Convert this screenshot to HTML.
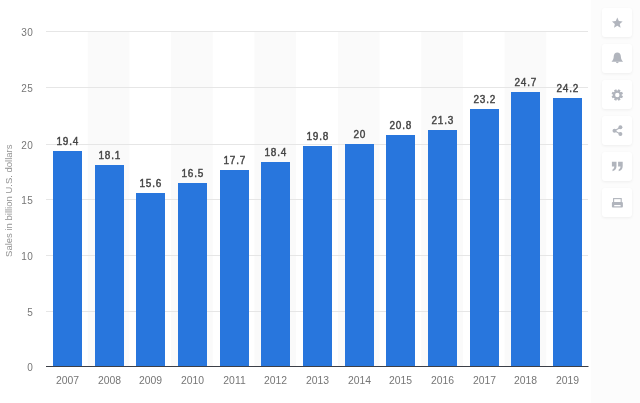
<!DOCTYPE html>
<html><head><meta charset="utf-8"><style>
html,body{margin:0;padding:0;background:#fff;width:640px;height:403px;overflow:hidden;position:relative}
svg{position:absolute;left:0;top:0;will-change:transform}
text{font-family:"Liberation Sans",sans-serif}
.yl{font-size:10px;fill:#767676;letter-spacing:0.4px}
.xl{font-size:10.4px;fill:#767676}
.dl{font-size:10px;font-weight:normal;fill:#444;stroke:#444;stroke-width:0.4px;letter-spacing:0.75px}
.yt{font-size:9.5px;fill:#939393}
.side{position:absolute;left:591px;top:0;width:49px;height:403px;background:#fcfcfc}
.btn{position:absolute;left:602px;width:30px;height:29px;border-radius:3px;background:#fff;box-shadow:0 1px 3px rgba(0,0,0,0.06)}
</style></head><body>
<svg width="640" height="403" viewBox="0 0 640 403">
<rect x="87.69" y="31" width="41.69" height="335" fill="#fafafa"/>
<rect x="171.08" y="31" width="41.69" height="335" fill="#fafafa"/>
<rect x="254.46" y="31" width="41.69" height="335" fill="#fafafa"/>
<rect x="337.85" y="31" width="41.69" height="335" fill="#fafafa"/>
<rect x="421.23" y="31" width="41.69" height="335" fill="#fafafa"/>
<rect x="504.62" y="31" width="41.69" height="335" fill="#fafafa"/>
<rect x="46" y="31" width="542" height="1" fill="#e6e6e6"/>
<text x="33.3" y="35.9" text-anchor="end" class="yl">30</text>
<rect x="46" y="87" width="542" height="1" fill="#e6e6e6"/>
<text x="33.3" y="91.9" text-anchor="end" class="yl">25</text>
<rect x="46" y="144" width="542" height="1" fill="#e6e6e6"/>
<text x="33.3" y="148.9" text-anchor="end" class="yl">20</text>
<rect x="46" y="199" width="542" height="1" fill="#e6e6e6"/>
<text x="33.3" y="203.9" text-anchor="end" class="yl">15</text>
<rect x="46" y="255" width="542" height="1" fill="#e6e6e6"/>
<text x="33.3" y="259.9" text-anchor="end" class="yl">10</text>
<rect x="46" y="311" width="542" height="1" fill="#e6e6e6"/>
<text x="33.3" y="315.9" text-anchor="end" class="yl">5</text>
<text x="33.3" y="370.6" text-anchor="end" class="yl">0</text>
<rect x="53" y="151" width="29" height="215" fill="#2876dd"/>
<text x="67.77" y="144.7" text-anchor="middle" class="dl">19.4</text>
<text x="67.50" y="383.6" text-anchor="middle" class="xl">2007</text>
<rect x="95" y="165" width="29" height="201" fill="#2876dd"/>
<text x="109.77" y="158.7" text-anchor="middle" class="dl">18.1</text>
<text x="109.50" y="383.6" text-anchor="middle" class="xl">2008</text>
<rect x="136" y="193" width="29" height="173" fill="#2876dd"/>
<text x="150.77" y="186.7" text-anchor="middle" class="dl">15.6</text>
<text x="150.50" y="383.6" text-anchor="middle" class="xl">2009</text>
<rect x="178" y="183" width="29" height="183" fill="#2876dd"/>
<text x="192.77" y="176.7" text-anchor="middle" class="dl">16.5</text>
<text x="192.50" y="383.6" text-anchor="middle" class="xl">2010</text>
<rect x="220" y="170" width="29" height="196" fill="#2876dd"/>
<text x="234.77" y="163.7" text-anchor="middle" class="dl">17.7</text>
<text x="234.50" y="383.6" text-anchor="middle" class="xl">2011</text>
<rect x="261" y="162" width="29" height="204" fill="#2876dd"/>
<text x="275.77" y="155.7" text-anchor="middle" class="dl">18.4</text>
<text x="275.50" y="383.6" text-anchor="middle" class="xl">2012</text>
<rect x="303" y="146" width="29" height="220" fill="#2876dd"/>
<text x="317.77" y="139.7" text-anchor="middle" class="dl">19.8</text>
<text x="317.50" y="383.6" text-anchor="middle" class="xl">2013</text>
<rect x="345" y="144" width="29" height="222" fill="#2876dd"/>
<text x="359.77" y="137.7" text-anchor="middle" class="dl">20</text>
<text x="359.50" y="383.6" text-anchor="middle" class="xl">2014</text>
<rect x="386" y="135" width="29" height="231" fill="#2876dd"/>
<text x="400.77" y="128.7" text-anchor="middle" class="dl">20.8</text>
<text x="400.50" y="383.6" text-anchor="middle" class="xl">2015</text>
<rect x="428" y="130" width="29" height="236" fill="#2876dd"/>
<text x="442.77" y="123.7" text-anchor="middle" class="dl">21.3</text>
<text x="442.50" y="383.6" text-anchor="middle" class="xl">2016</text>
<rect x="470" y="109" width="29" height="257" fill="#2876dd"/>
<text x="484.77" y="102.7" text-anchor="middle" class="dl">23.2</text>
<text x="484.50" y="383.6" text-anchor="middle" class="xl">2017</text>
<rect x="511" y="92" width="29" height="274" fill="#2876dd"/>
<text x="525.77" y="85.7" text-anchor="middle" class="dl">24.7</text>
<text x="525.50" y="383.6" text-anchor="middle" class="xl">2018</text>
<rect x="553" y="98" width="29" height="268" fill="#2876dd"/>
<text x="567.77" y="91.7" text-anchor="middle" class="dl">24.2</text>
<text x="567.50" y="383.6" text-anchor="middle" class="xl">2019</text>
<rect x="46" y="366" width="542.5" height="1" fill="#3c3f47"/>
<text transform="translate(12,200.7) rotate(-90)" text-anchor="middle" class="yt">Sales in billion U.S. dollars</text>
</svg>
<div class="side"></div>
<div class="btn" style="top:8.3px"></div>
<div class="btn" style="top:44.3px"></div>
<div class="btn" style="top:80.3px"></div>
<div class="btn" style="top:116.3px"></div>
<div class="btn" style="top:152.3px"></div>
<div class="btn" style="top:188.3px"></div>
<svg width="640" height="403" viewBox="0 0 640 403" style="filter:blur(0.45px)">
<polygon points="617.30,17.60 618.83,21.10 622.63,21.47 619.77,24.00 620.59,27.73 617.30,25.80 614.01,27.73 614.83,24.00 611.97,21.47 615.77,21.10" fill="#b1b5bd"/>
<path d="M611.5,61.8 L623.0999999999999,61.8 C621.5,60.4 620.9,58.5 620.9,56.8 C620.9,53.8 619.3,52.4 617.3,52.4 C615.3,52.4 613.6999999999999,53.8 613.6999999999999,56.8 C613.6999999999999,58.5 613.0999999999999,60.4 611.5,61.8 Z" fill="#b1b5bd"/><path d="M615.9,61.8 A1.4,1.4 0 0 0 618.6999999999999,61.8 Z" fill="#b1b5bd"/>
<rect x="616.10" y="89.30" width="2.4" height="3" fill="#b1b5bd" transform="rotate(22.5 617.3 95)"/><rect x="616.10" y="89.30" width="2.4" height="3" fill="#b1b5bd" transform="rotate(67.5 617.3 95)"/><rect x="616.10" y="89.30" width="2.4" height="3" fill="#b1b5bd" transform="rotate(112.5 617.3 95)"/><rect x="616.10" y="89.30" width="2.4" height="3" fill="#b1b5bd" transform="rotate(157.5 617.3 95)"/><rect x="616.10" y="89.30" width="2.4" height="3" fill="#b1b5bd" transform="rotate(202.5 617.3 95)"/><rect x="616.10" y="89.30" width="2.4" height="3" fill="#b1b5bd" transform="rotate(247.5 617.3 95)"/><rect x="616.10" y="89.30" width="2.4" height="3" fill="#b1b5bd" transform="rotate(292.5 617.3 95)"/><rect x="616.10" y="89.30" width="2.4" height="3" fill="#b1b5bd" transform="rotate(337.5 617.3 95)"/><circle cx="617.3" cy="95" r="3.3" fill="none" stroke="#b1b5bd" stroke-width="2.2"/>
<line x1="614.5" y1="130.7" x2="620.3" y2="127.39999999999999" stroke="#b1b5bd" stroke-width="1.1"/><line x1="614.5" y1="130.7" x2="620.3" y2="134.0" stroke="#b1b5bd" stroke-width="1.1"/><circle cx="614.5" cy="130.7" r="2" fill="#b1b5bd"/><circle cx="620.4" cy="127.29999999999998" r="2" fill="#b1b5bd"/><circle cx="620.4" cy="134.1" r="2" fill="#b1b5bd"/>
<path d="M611.9,161.70000000000002 h4.6 v4.4 C616.5,168.9 615.1,170.70000000000002 612.5,171.20000000000002 L612.5,169.5 C613.6999999999999,169.10000000000002 614.3,167.9 614.3,166.5 H611.9 Z" fill="#b1b5bd"/><path d="M618.0999999999999,161.70000000000002 h4.6 v4.4 C622.6999999999999,168.9 621.3,170.70000000000002 618.6999999999999,171.20000000000002 L618.6999999999999,169.5 C619.8999999999999,169.10000000000002 620.4999999999999,167.9 620.4999999999999,166.5 H618.0999999999999 Z" fill="#b1b5bd"/>
<rect x="613.6" y="198.6" width="7.6" height="4" fill="none" stroke="#b1b5bd" stroke-width="1.1"/><rect x="611.9" y="202" width="11" height="5.6" rx="1" fill="#b1b5bd"/><rect x="614.2" y="205" width="6.4" height="1.3" fill="#fff"/>
</svg>
</body></html>
